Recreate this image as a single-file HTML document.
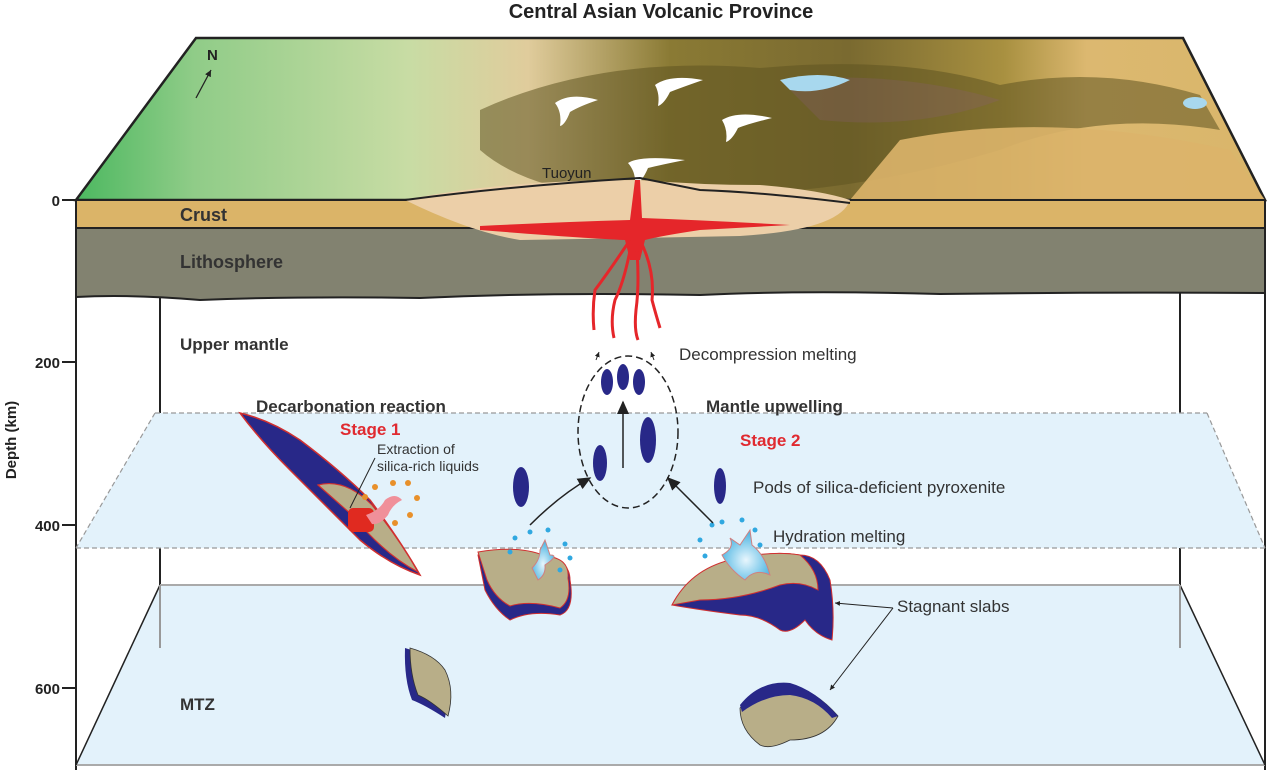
<!DOCTYPE html>
<html><head><meta charset="utf-8"><style>
body{margin:0;background:#fff}
svg{display:block}
text{font-family:"Liberation Sans",Arial,sans-serif}
</style></head><body>
<svg width="1269" height="775" viewBox="0 0 1269 775" xmlns="http://www.w3.org/2000/svg">
<defs>
<linearGradient id="map" x1="0" y1="0" x2="1" y2="0">
<stop offset="0" stop-color="#4cb860"/>
<stop offset="0.1" stop-color="#90cc88"/>
<stop offset="0.28" stop-color="#c8dca4"/>
<stop offset="0.38" stop-color="#e0cc9c"/>
<stop offset="0.5" stop-color="#8a7a34"/>
<stop offset="0.65" stop-color="#7a6a30"/>
<stop offset="0.78" stop-color="#a89040"/>
<stop offset="0.85" stop-color="#dcb870"/>
<stop offset="1" stop-color="#d9b66a"/>
</linearGradient>
<radialGradient id="blue" cx="0.5" cy="0.6" r="0.6"><stop offset="0" stop-color="#e8f6fd"/><stop offset="1" stop-color="#40b0e0"/></radialGradient>
<marker id="ar" markerWidth="10" markerHeight="10" refX="8" refY="4" orient="auto"><path d="M0,0 L9,4 L0,8 Z" fill="#222"/></marker>
<marker id="ars" markerWidth="6" markerHeight="6" refX="5" refY="2.5" orient="auto"><path d="M0,0 L5,2.5 L0,5 Z" fill="#222"/></marker>
</defs>

<text x="661" y="18" font-size="20" font-weight="bold" text-anchor="middle" fill="#222">Central Asian Volcanic Province</text>

<polygon points="196,38 1183,38 1265,200 76,200" fill="url(#map)" stroke="#222" stroke-width="2.5"/>
<path d="M480,110 Q600,55 760,68 Q900,55 1000,85 Q1100,65 1200,95 L1220,130 Q1100,110 1000,150 Q900,180 800,190 Q700,200 600,195 Q520,185 480,150 Z" fill="#5e5420" opacity="0.55"/>
<path d="M780,80 Q900,70 1000,100 Q920,130 820,120 Z" fill="#8a5a7a" opacity="0.25"/>
<path d="M780,80 Q820,70 850,80 Q820,95 790,90 Z" fill="#a8d8ee"/>
<ellipse cx="1195" cy="103" rx="12" ry="6" fill="#a8d8ee"/>
<path d="M900,140 Q1050,110 1230,150 L1265,200 L850,200 Z" fill="#dcb46a" opacity="0.9"/>
<text x="207" y="60" font-size="15" font-weight="bold" fill="#222">N</text>
<line x1="196" y1="98" x2="211" y2="70" stroke="#222" stroke-width="1.3" marker-end="url(#ars)"/>
<g fill="#fff">
<path d="M555,103 Q570,92 598,100 Q580,106 570,112 Q565,125 560,126 Q562,112 555,103Z"/>
<path d="M655,85 Q670,74 703,80 Q680,88 670,92 Q664,104 658,106 Q660,94 655,85Z"/>
<path d="M722,120 Q738,110 772,118 Q748,124 738,128 Q732,140 726,142 Q728,130 722,120Z"/>
<path d="M628,163 Q640,155 685,160 Q660,165 648,168 Q642,182 635,185 Q636,172 628,163Z"/>
</g>
<text x="542" y="178" font-size="15" fill="#222">Tuoyun</text>

<rect x="76" y="200" width="1189" height="28" fill="#dbb468" stroke="#222" stroke-width="2"/>
<path d="M76,228 L1265,228 L1265,293 Q1100,292 940,294 Q800,290 700,295 Q550,292 420,298 Q300,296 200,300 Q130,294 76,297 Z" fill="#828270" stroke="#222" stroke-width="2"/>
<path d="M405,200 Q500,180 640,180 Q700,185 760,185 Q820,190 850,200 Q840,230 740,236 Q640,238 520,240 Q470,232 405,200Z" fill="#eccfa8"/>
<path d="M405,200 Q520,185 640,178 Q660,182 700,190 Q760,192 850,203" fill="none" stroke="#222" stroke-width="2"/>
<path d="M480,226 Q560,222 630,220 L635,180 L640,180 L642,218 Q700,220 790,225 L700,230 Q660,236 645,240 L640,260 L630,260 L625,240 Q580,238 480,230Z" fill="#e5262a"/>
<g stroke="#e5262a" stroke-width="3" fill="none">
<path d="M630,240 Q610,270 595,290 Q592,310 594,330"/>
<path d="M632,240 Q625,280 615,300 Q610,320 614,338"/>
<path d="M636,240 Q640,280 636,310 Q634,330 638,340"/>
<path d="M640,240 Q655,270 652,300 Q656,315 660,328"/>
</g>

<line x1="160" y1="297" x2="160" y2="648" stroke="#222" stroke-width="2"/>
<line x1="1180" y1="293" x2="1180" y2="648" stroke="#222" stroke-width="2"/>
<line x1="76" y1="200" x2="76" y2="770" stroke="#222" stroke-width="2"/>
<line x1="1265" y1="200" x2="1265" y2="770" stroke="#222" stroke-width="2"/>

<polygon points="155,413 1207,413 1265,548 76,548" fill="#e3f2fb"/>
<line x1="155" y1="413" x2="1207" y2="413" stroke="#999" stroke-dasharray="5,3" stroke-width="1.2"/>
<line x1="76" y1="548" x2="1265" y2="548" stroke="#999" stroke-dasharray="5,3" stroke-width="1.2"/>
<line x1="155" y1="413" x2="76" y2="548" stroke="#999" stroke-dasharray="5,3" stroke-width="1.2"/>
<line x1="1207" y1="413" x2="1265" y2="548" stroke="#999" stroke-dasharray="5,3" stroke-width="1.2"/>

<polygon points="160,585 1180,585 1265,765 76,765" fill="#e3f2fb"/>
<line x1="160" y1="585" x2="1180" y2="585" stroke="#aaa" stroke-width="2"/>
<line x1="76" y1="765" x2="1265" y2="765" stroke="#aaa" stroke-width="2"/>
<line x1="160" y1="585" x2="76" y2="765" stroke="#222" stroke-width="1.5"/>
<line x1="1180" y1="585" x2="1265" y2="765" stroke="#222" stroke-width="1.5"/>
<line x1="160" y1="585" x2="160" y2="648" stroke="#999" stroke-width="2"/>
<line x1="1180" y1="585" x2="1180" y2="648" stroke="#999" stroke-width="2"/>

<g font-size="15" font-weight="bold" fill="#222" text-anchor="end">
<text x="60" y="206">0</text><line x1="62" y1="200" x2="76" y2="200" stroke="#222" stroke-width="2"/>
<text x="60" y="368">200</text><line x1="62" y1="362" x2="76" y2="362" stroke="#222" stroke-width="2"/>
<text x="60" y="531">400</text><line x1="62" y1="525" x2="76" y2="525" stroke="#222" stroke-width="2"/>
<text x="60" y="694">600</text><line x1="62" y1="688" x2="76" y2="688" stroke="#222" stroke-width="2"/>
</g>
<text transform="translate(16,440) rotate(-90)" font-size="15" font-weight="bold" fill="#222" text-anchor="middle">Depth (km)</text>

<g font-weight="bold" fill="#333" font-size="17">
<text x="180" y="221" font-size="18">Crust</text>
<text x="180" y="268" font-size="18">Lithosphere</text>
<text x="180" y="350">Upper mantle</text>
<text x="256" y="412">Decarbonation reaction</text>
<text x="706" y="412">Mantle upwelling</text>
<text x="180" y="710">MTZ</text>
</g>
<text x="340" y="435" font-size="17" font-weight="bold" fill="#e02a30">Stage 1</text>
<text x="740" y="446" font-size="17" font-weight="bold" fill="#e02a30">Stage 2</text>
<g fill="#333" font-size="17">
<text x="679" y="360">Decompression melting</text>
<text x="753" y="493">Pods of silica-deficient pyroxenite</text>
<text x="773" y="542">Hydration melting</text>
<text x="897" y="612">Stagnant slabs</text>
</g>
<text x="377" y="454" font-size="14" fill="#333">Extraction of</text>
<text x="377" y="471" font-size="14" fill="#333">silica-rich liquids</text>

<path d="M240,413 Q270,420 300,440 Q340,470 370,500 Q400,540 420,575 Q390,565 360,540 Q320,500 290,470 Q260,440 240,413Z" fill="#282888" stroke="#d03030" stroke-width="1.5"/>
<path d="M318,485 Q345,478 372,505 Q400,540 418,572 Q385,555 352,515 Z" fill="#b8ae88" stroke="#d03030" stroke-width="1.2"/>
<rect x="348" y="508" width="26" height="24" rx="5" fill="#e02a20"/>
<path d="M366,515 Q380,510 385,500 Q395,492 402,500 Q392,505 388,515 Q380,525 372,524Z" fill="#f0909a"/>
<line x1="375" y1="458" x2="350" y2="508" stroke="#222" stroke-width="1"/>
<g fill="#e8902a"><circle cx="375" cy="487" r="3"/><circle cx="393" cy="483" r="3"/><circle cx="408" cy="483" r="3"/><circle cx="417" cy="498" r="3"/><circle cx="410" cy="515" r="3"/><circle cx="395" cy="523" r="3"/><circle cx="365" cy="497" r="3"/></g>

<path d="M478,555 Q520,548 545,560 Q570,560 570,580 Q575,610 560,615 Q530,610 510,620 Q495,610 485,590 Z" fill="#282888" stroke="#d03030" stroke-width="1"/>
<path d="M478,552 Q520,545 545,556 Q570,558 568,578 Q572,600 560,608 Q530,600 510,606 Q495,598 487,580 Z" fill="#b8ae88" stroke="#d03030" stroke-width="1"/>
<path d="M532,568 Q540,560 540,550 L545,540 L550,555 Q560,555 545,565 Q546,575 538,580 Z" fill="url(#blue)" stroke="#d08080" stroke-width="1"/>
<g fill="#30a8e0"><circle cx="515" cy="538" r="2.5"/><circle cx="530" cy="532" r="2.5"/><circle cx="548" cy="530" r="2.5"/><circle cx="565" cy="544" r="2.5"/><circle cx="570" cy="558" r="2.5"/><circle cx="510" cy="552" r="2.5"/><circle cx="560" cy="570" r="2.5"/></g>

<path d="M672,605 Q690,570 740,560 Q770,550 800,555 Q820,555 830,580 Q835,610 832,640 Q815,635 805,620 Q790,635 780,630 Q760,615 740,615 Q700,610 672,605Z" fill="#282888" stroke="#d03030" stroke-width="1"/>
<path d="M672,605 Q690,570 730,560 Q770,550 800,555 Q818,570 818,590 Q800,580 780,585 Q740,600 700,600 Z" fill="#b8ae88" stroke="#d03030" stroke-width="1"/>
<path d="M722,555 Q735,548 730,538 L740,545 L750,530 L752,545 Q765,555 770,575 Q755,568 745,580 Q730,570 722,555Z" fill="url(#blue)" stroke="#d08080" stroke-width="1"/>
<g fill="#30a8e0"><circle cx="712" cy="525" r="2.5"/><circle cx="722" cy="522" r="2.5"/><circle cx="742" cy="520" r="2.5"/><circle cx="755" cy="530" r="2.5"/><circle cx="760" cy="545" r="2.5"/><circle cx="700" cy="540" r="2.5"/><circle cx="705" cy="556" r="2.5"/></g>

<path d="M405,648 Q430,655 440,670 Q450,690 445,718 Q425,705 412,700 Q404,680 405,648Z" fill="#282888"/>
<path d="M410,648 Q435,655 445,670 Q455,690 448,716 Q430,700 418,695 Q410,675 410,648Z" fill="#b8ae88" stroke="#333" stroke-width="0.8"/>
<path d="M740,708 Q760,685 790,685 Q815,690 838,716 Q825,740 790,740 Q770,750 760,745 Q740,730 740,708Z" fill="#b8ae88" stroke="#333" stroke-width="0.8"/>
<path d="M740,705 Q760,680 790,683 Q815,690 838,716 L832,718 Q815,698 790,695 Q765,695 742,712Z" fill="#282888"/>

<g fill="#282888">
<ellipse cx="521" cy="487" rx="8" ry="20"/><ellipse cx="600" cy="463" rx="7" ry="18"/><ellipse cx="648" cy="440" rx="8" ry="23"/>
<ellipse cx="607" cy="382" rx="6" ry="13"/><ellipse cx="623" cy="377" rx="6" ry="13"/><ellipse cx="639" cy="382" rx="6" ry="13"/>
<ellipse cx="720" cy="486" rx="6" ry="18"/>
</g>
<ellipse cx="628" cy="432" rx="50" ry="76" fill="none" stroke="#222" stroke-width="1.5" stroke-dasharray="7,4"/>
<line x1="623" y1="468" x2="623" y2="402" stroke="#222" stroke-width="1.5" marker-end="url(#ar)"/>
<path d="M530,525 Q560,495 590,478" fill="none" stroke="#222" stroke-width="1.5" marker-end="url(#ar)"/>
<path d="M713,523 Q690,500 668,478" fill="none" stroke="#222" stroke-width="1.5" marker-end="url(#ar)"/>
<g stroke="#222" stroke-width="1" fill="none" marker-end="url(#ars)"><path d="M596,360 L599,352"/><path d="M654,360 L651,352"/></g>
<path d="M893,608 L835,603" stroke="#222" stroke-width="1" marker-end="url(#ars)"/>
<path d="M893,608 L830,690" stroke="#222" stroke-width="1" marker-end="url(#ars)"/>
</svg>
</body></html>
